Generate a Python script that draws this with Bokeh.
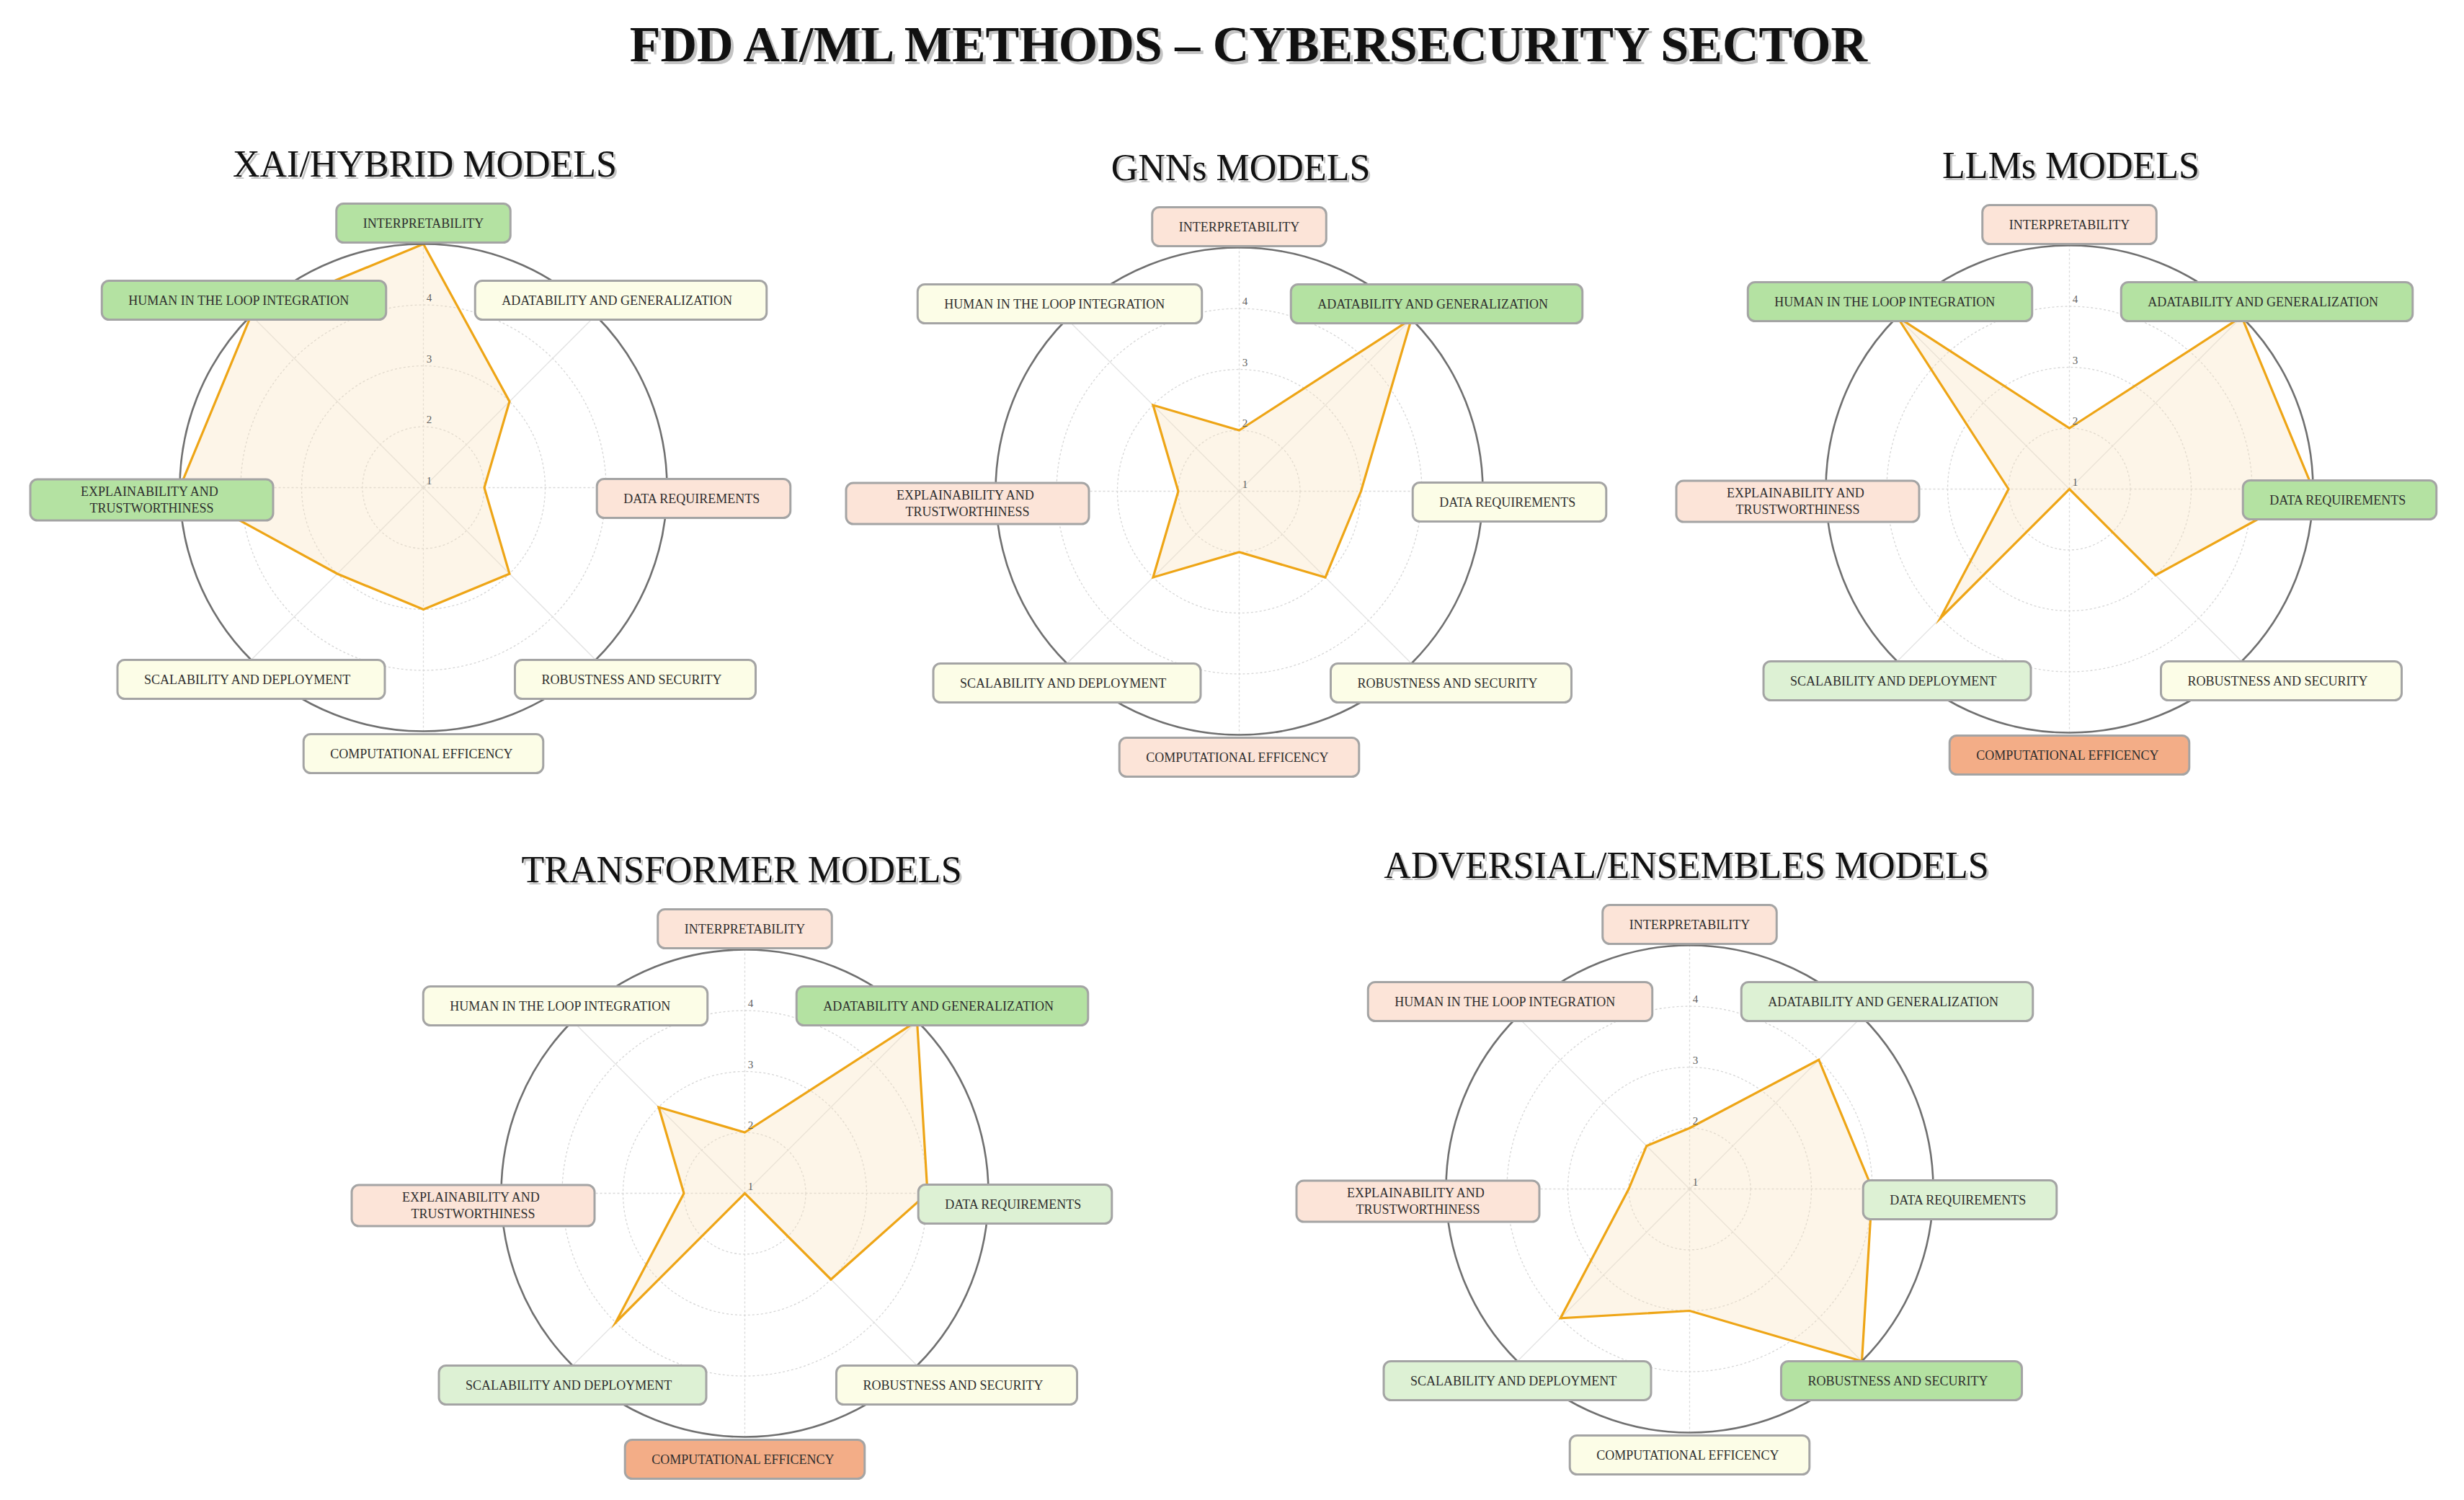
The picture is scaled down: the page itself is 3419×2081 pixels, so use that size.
import numpy as np
from bokeh.plotting import figure
from bokeh.models import Range1d, Label, ColumnDataSource
from bokeh.core.properties import value
from bokeh.embed import file_html
from bokeh.resources import INLINE

# ---------------- data ----------------
main_title = "FDD AI/ML METHODS \u2013 CYBERSECURITY SECTOR"
categories = [
    "INTERPRETABILITY",
    "ADATABILITY  AND  GENERALIZATION",
    "DATA  REQUIREMENTS",
    "ROBUSTNESS  AND  SECURITY",
    "COMPUTATIONAL  EFFICENCY",
    "SCALABILITY  AND  DEPLOYMENT",
    "EXPLAINABILITY  AND\nTRUSTWORTHINESS",
    "HUMAN  IN  THE LOOP  INTEGRATION",
]
model_titles = ["XAI/HYBRID MODELS", "GNNs MODELS", "LLMs MODELS",
                "TRANSFORMER  MODELS", "ADVERSIAL/ENSEMBLES  MODELS"]
xai = [5, 3, 2, 3, 3, 3, 5, 5]
gnns = [2, 5, 3, 3, 2, 3, 2, 3]
llms = [2, 5, 5, 3, 1, 4, 2, 5]
transformer = [2, 5, 4, 3, 1, 4, 2, 3]
adversial = [2, 4, 4, 5, 3, 4, 2, 2]
series = [xai, gnns, llms, transformer, adversial]
radial_ticks = [1, 2, 3, 4]
r_min, r_max = 1, 5

# ---------------- style / layout ----------------
W, H = 3403, 2065
centers = [(595, 684), (1727, 689), (2879, 686), (1041, 1663), (2352, 1657)]
unit = 84.5  # pixels per value step
label_offsets = [(0, -367), (274, -260), (375, 15), (294, 266),
                 (0, 369), (-239, 266), (-377, 17), (-249, -260)]
score_colors = {1: "#f3ad87", 2: "#fce4d8", 3: "#fcfde7", 4: "#ddf1d4", 5: "#b4e2a2"}
serif = "Liberation Serif"

p = figure(width=W, height=H, output_backend="svg", toolbar_location=None,
           x_range=Range1d(8, 8 + W), y_range=Range1d(8 + H, 8),
           x_axis_type=None, y_axis_type=None, min_border=0)
p.grid.visible = False
p.outline_line_color = None
p.background_fill_color = "white"

def add_title(x, y, text, size, bold=False, shadow=3):
    style = "bold" if bold else "normal"
    p.add_layout(Label(x=x + shadow, y=y + shadow, text=text, text_align="center",
                       text_baseline="middle", text_font=serif, text_font_size=size,
                       text_font_style=style, text_color="#c4c4c4"))
    p.add_layout(Label(x=x, y=y, text=text, text_align="center",
                       text_baseline="middle", text_font=serif, text_font_size=size,
                       text_font_style=style, text_color="#111111"))

add_title(1745, 69, main_title, "70px", bold=True, shadow=4)

angles = np.deg2rad(90 - 45 * np.arange(len(categories)))
R = (r_max - r_min) * unit

for k, (vals, title, (cx, cy)) in enumerate(zip(series, model_titles, centers)):
    add_title(cx + 2, cy - 449, title, "52px")

    # inner rings (dotted)
    ring_vals = [t for t in radial_ticks if t > r_min]
    p.circle(x=[cx] * len(ring_vals), y=[cy] * len(ring_vals),
             radius=[(t - r_min) * unit for t in ring_vals],
             fill_color=None, line_color="#d6d6d6", line_width=1.3, line_dash="3 3")

    # spokes
    ex = cx + R * np.cos(angles)
    ey = cy - R * np.sin(angles)
    diag = np.arange(len(categories)) % 2 == 1
    p.segment(x0=[cx] * int(diag.sum()), y0=[cy] * int(diag.sum()),
              x1=ex[diag], y1=ey[diag], line_color="#e2e2e2", line_width=1.3)
    p.segment(x0=[cx] * int((~diag).sum()), y0=[cy] * int((~diag).sum()),
              x1=ex[~diag], y1=ey[~diag], line_color="#d9d9d9", line_width=1.3,
              line_dash="3 3")

    # data polygon
    r = (np.array(vals) - r_min) * unit
    px = cx + r * np.cos(angles)
    py = cy - r * np.sin(angles)
    p.patch(x=px, y=py, fill_color="#f9e3bd", fill_alpha=0.35,
            line_color="#eea516", line_width=3.2, line_join="miter")

    # outer circle
    p.circle(x=[cx], y=[cy], radius=[R], fill_color=None,
             line_color="#707070", line_width=2.6)

    # radial tick labels
    src = ColumnDataSource(dict(
        x=[cx + 8] * len(radial_ticks),
        y=[cy - (t - r_min) * unit - 10 for t in radial_ticks],
        t=[str(t) for t in radial_ticks]))
    p.text(x="x", y="y", text="t", source=src, text_font=value(serif),
           text_font_size="15px", text_color="#5e5e5e",
           text_align="center", text_baseline="middle")

    # category labels in rounded boxes
    for cat, v, (dx, dy) in zip(categories, vals, label_offsets):
        two = "\n" in cat
        pad_y = 7 if two else 17
        pad_x = 70 if two else 37
        p.add_layout(Label(
            x=cx + dx, y=cy + dy, text=cat, text_align="center",
            text_baseline="middle", text_font=serif, text_font_size="18px",
            text_color="#2e2e2e", text_line_height=1.15,
            background_fill_color=score_colors[v],
            border_line_color="#a4a4a4", border_line_width=3,
            border_radius=10,
            padding=dict(left=pad_x, right=pad_x, top=pad_y, bottom=pad_y)))

open("out.html", "w").write(file_html(p, INLINE))
